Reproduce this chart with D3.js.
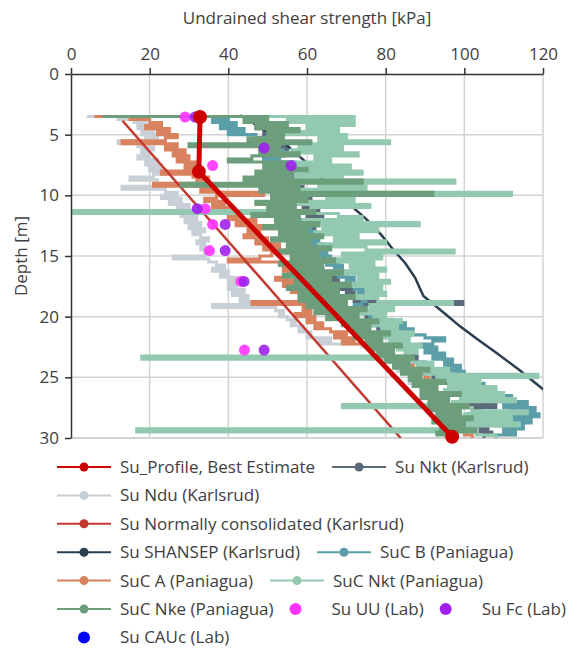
<!DOCTYPE html>
<html>
<head>
<meta charset="utf-8">
<script src="https://cdn.jsdelivr.net/npm/d3@7/dist/d3.min.js"></script>
<style>
  body { margin: 0; background: #fff; }
  svg { font-family: "Open Sans", sans-serif; }
</style>
</head>
<body>
<div id="chart"></div>
<script>
// CPT based profiles are sampled every 0.25 m starting at 3.5 m
const topDepth = 3.5;
const depthStep = 0.25;

// Su Nkt (Karlsrud)
const suNktKarlsrud = [
    44, 48, 46, 51,  47, 53, 49, 52,  48, 54, 50, 55,  51, 54, 49, 53,
    57, 52, 56, 53,  57, 54, 58, 55,  59, 56, 60, 57,  61, 58, 62, 59,
    63, 60, 64, 61,  63, 60, 62, 59,  61, 58, 60, 62,  64, 62, 65, 64,
    66, 63, 61, 64,  67, 65, 68, 66,  70, 68, 72, 70,  74, 72, 99.6, 73,
    75, 74, 76, 75,  77, 76, 79, 78,  79, 81, 83, 82,  84, 86, 85, 87,
    88, 87, 90, 89,  91, 93, 92, 95,  94, 97, 96, 99,  98, 101, 100, 99,
    108, 102, 104, 101,  105, 103, 100, 106,  104, 107, 105
];

// Su Ndu (Karlsrud)
const suNdu = [
    4, 12, 16, 19,  17, 21, 18, 22,  19, 12, 17, 21,  18, 20, 17, 22,
    19, 23, 20, 24,  21, 15, 22, 25,  13, 24, 27, 23,  28, 25, 30, 27,
    31, 28, 32, 29,  33, 30, 34, 31,  33, 35, 32, 34,  33, 36, 34, 26,
    35, 37, 39, 36,  40, 38, 42, 40,  42, 40, 44, 41,  45, 43, 47, 36,
    52, 54, 53, 55,  57, 56, 59, 58,  61, 60, 66, 63,  74, 77, 78, 80,
    79, 81, 82, 84,  83, 85, 86, 88,  86, 88, 89, 90,  89, 91, 92, 93,
    92, 93, 94, 95,  95, 94, 96, 97,  97, 96, 98
];

// SuC B (Paniagua)
const sucB = [
    35, 40, 36, 42,  38, 44, 40, 47,  50, 46, 52, 48,  54, 50, 53, 49,
    55, 51, 54, 50,  56, 52, 55, 51,  57, 53, 56, 52,  58, 54, 57, 55,
    59, 56, 58, 60,  57, 61, 59, 62,  60, 63, 61, 64,  62, 65, 63, 66,
    68, 65, 69, 67,  70, 68, 72, 70,  74, 72, 76, 73,  77, 75, 74, 72,
    75, 73, 76, 79,  82, 85, 83, 87,  84, 90, 95, 92,  89, 93, 90, 95,
    92, 97, 95, 99,  96, 100, 98, 102,  100, 105, 103, 108,  105, 112, 108, 116,
    110, 118, 112, 119,  110, 117, 108, 115,  110, 113, 108
];

// SuC A (Paniagua)
const sucA = [
    6, 15, 20, 23,  19, 25, 22, 27,  24, 13, 27, 24,  29, 26, 30, 27,
    32, 29, 33, 23,  31, 35, 32, 21,  36, 33, 49, 37,  34, 39, 36, 41,
    38, 43, 40, 47,  42, 52, 45, 48,  44, 50, 47, 53,  49, 57, 51, 48,
    40, 53, 58, 54,  60, 55, 52, 57,  54, 59, 56, 61,  58, 62, 46, 63,
    59, 61, 57, 62,  60, 64, 62, 66,  70, 67, 72, 69,  76, 78, 80, 82,
    81, 83, 85, 87,  86, 88, 90, 91,  90, 92, 93, 91,  94, 95, 93, 96,
    97, 95, 98, 97,  99, 98, 100, 99,  101, 100, 102
];

// SuC Nkt (Paniagua)
const sucNkt = [
    12, 72, 55, 72,  60, 68, 54, 70,  63, 81, 58, 69,  56, 73, 62, 66,
    54, 71, 60, 74,  57, 69, 97.6, 63,  75, 58, 112, 65,  72, 57, 76, 61,
    0.5, 68, 74, 59,  88.5, 64, 78, 62,  73, 67, 80, 63,  75, 97.4, 69, 79,
    65, 77, 71, 80,  67, 78, 73, 81,  70, 79, 75, 80,  71, 78, 97, 76,
    82, 72, 80, 77,  84, 75, 83, 79,  87, 78, 86, 81,  89, 83, 88, 85,
    18, 87, 92, 88,  96, 90, 118.7, 93,  104, 96, 108, 95,  110, 99, 113, 97,
    69, 102, 116, 100,  112, 95, 114, 99,  16.7, 103, 108
];

// SuC Nke (Paniagua)
const sucNke = [
    8, 50, 44, 55,  47, 58, 50, 54,  45, 61, 30, 53,  48, 58, 46, 40,
    55, 49, 60, 47,  56, 44, 74, 28,  58, 48, 92, 51,  60, 47, 57, 50,
    62, 46, 58, 52,  63, 49, 60, 53,  64, 51, 61, 55,  66, 53, 63, 56,
    67, 53, 64, 56,  69, 54, 66, 57,  71, 55, 68, 58,  72, 58, 70, 60,
    75, 62, 73, 65,  78, 69, 76, 71,  81, 72, 79, 75,  84, 76, 82, 78,
    87, 80, 86, 82,  91, 84, 89, 86,  95, 87, 93, 89,  99, 89, 96, 91,
    101, 91, 99, 93,  102, 92, 100, 94,  103, 93, 98
];

// Su Normally consolidated (Karlsrud)
const ncDepth = [3.85, 30];
const ncSu = [13.1, 83.8];

// Su SHANSEP (Karlsrud)
const shansepDepth = [3.4, 4.4, 5.3, 6.2, 7.2, 8.4, 9.6, 10.8, 12.0, 13.3, 14.5, 15.6,
    16.8, 17.6, 18.3, 19.2, 20.0, 20.8, 21.9, 23.0, 24.4, 25.9, 26.6];
const shansepSu = [43, 48, 53, 56, 59.5, 63, 66.6, 71, 75.2, 79, 82, 85,
    87.5, 88.6, 89.6, 93, 96, 98.9, 103.5, 108.2, 114, 119.7, 122.5];

// Su_Profile, Best Estimate
const profileDepth = [3.55, 8.05, 29.9];
const profileSu = [32.8, 32.5, 96.9];

// Lab tests
const uuDepth = [3.55, 7.55, 11.1, 12.4, 14.55, 17.1, 22.75];
const uuSu = [29.0, 36.0, 34.1, 36.0, 35.2, 43.2, 44.1];
const fcDepth = [3.55, 6.1, 7.55, 11.1, 12.4, 14.55, 17.1, 22.75];
const fcSu = [31.5, 49.1, 56.0, 32.1, 39.2, 39.2, 44.0, 49.1];
const caucDepth = [];
const caucSu = [];

// Axis ticks
const xTicks = [0, 20, 40, 60, 80, 100, 120];
const yTicks = [0, 5, 10, 15, 20, 25, 30];

const colors = {
    profile: '#cc0000',
    nktK: '#5a6a78',
    ndu: '#c8cfd6',
    nc: '#c4392f',
    shansep: '#2b3d4f',
    sucB: '#5b9ea7',
    sucA: '#d9825f',
    sucNkt: '#92c9b0',
    sucNke: '#6c9e7c',
    uu: '#ff33ff',
    fc: '#a020f0',
    cauc: '#0000ff'
};

const width = 577;
const height = 662;
const plot = { left: 71, right: 543, top: 74, bottom: 438 };
const noiseWidth = 3.1;  // thick enough that neighbouring samples touch
const fontSize = '17px';

// turn a value array into {depth, su} records on the sampling grid
function profileRecords(values) {
    return values.map((v, i) => ({ depth: topDepth + i * depthStep, su: v }));
}

function pairs(depths, values) {
    return depths.map((d, i) => ({ depth: d, su: values[i] }));
}

function drawChart() {
    const svg = d3.select('#chart')
        .append('svg')
        .attr('width', width)
        .attr('height', height);

    const xScale = d3.scaleLinear().domain([0, 120]).range([plot.left, plot.right]);
    const yScale = d3.scaleLinear().domain([0, 30]).range([plot.top, plot.bottom]);

    // gridlines
    const grid = svg.append('g').attr('class', 'grid');
    grid.selectAll('line.v')
        .data(xTicks.slice(1))
        .join('line')
        .attr('x1', d => xScale(d)).attr('x2', d => xScale(d))
        .attr('y1', plot.top).attr('y2', plot.bottom)
        .attr('stroke', '#d3d3d3').attr('stroke-width', 1.5);
    grid.selectAll('line.h')
        .data(yTicks.slice(1))
        .join('line')
        .attr('x1', plot.left).attr('x2', plot.right)
        .attr('y1', d => yScale(d)).attr('y2', d => yScale(d))
        .attr('stroke', '#d3d3d3').attr('stroke-width', d => d === 30 ? 2 : 1.5);

    svg.append('clipPath').attr('id', 'plot-clip')
        .append('rect')
        .attr('x', plot.left).attr('y', plot.top)
        .attr('width', plot.right - plot.left).attr('height', plot.bottom - plot.top);

    const lines = svg.append('g').attr('clip-path', 'url(#plot-clip)');

    const stepLine = d3.line()
        .x(d => xScale(d.su))
        .y(d => yScale(d.depth))
        .curve(d3.curveStepAfter);
    const straightLine = d3.line()
        .x(d => xScale(d.su))
        .y(d => yScale(d.depth));

    // drawing order: back to front
    const noisy = [
        { values: suNktKarlsrud, color: colors.nktK },
        { values: sucB, color: colors.sucB },
        { values: suNdu, color: colors.ndu },
        { values: sucA, color: colors.sucA }
    ];
    noisy.forEach(s => {
        lines.append('path')
            .datum(profileRecords(s.values))
            .attr('d', stepLine)
            .attr('fill', 'none')
            .attr('stroke', s.color)
            .attr('stroke-width', noiseWidth);
    });

    lines.append('path')
        .datum(pairs(shansepDepth, shansepSu))
        .attr('d', straightLine)
        .attr('fill', 'none')
        .attr('stroke', colors.shansep)
        .attr('stroke-width', 2.5);

    lines.append('path')
        .datum(pairs(ncDepth, ncSu))
        .attr('d', straightLine)
        .attr('fill', 'none')
        .attr('stroke', colors.nc)
        .attr('stroke-width', 2.5);

    [{ values: sucNkt, color: colors.sucNkt }, { values: sucNke, color: colors.sucNke }].forEach(s => {
        lines.append('path')
            .datum(profileRecords(s.values))
            .attr('d', stepLine)
            .attr('fill', 'none')
            .attr('stroke', s.color)
            .attr('stroke-width', noiseWidth);
    });

    // lab points
    const labSets = [
        { data: pairs(uuDepth, uuSu), color: colors.uu },
        { data: pairs(fcDepth, fcSu), color: colors.fc },
        { data: pairs(caucDepth, caucSu), color: colors.cauc }
    ];
    labSets.forEach(s => {
        svg.append('g').selectAll('circle')
            .data(s.data)
            .join('circle')
            .attr('cx', d => xScale(d.su))
            .attr('cy', d => yScale(d.depth))
            .attr('r', 5.5)
            .attr('fill', s.color)
            .attr('fill-opacity', 0.9);
    });

    // best estimate profile on top
    const profile = pairs(profileDepth, profileSu);
    svg.append('path')
        .datum(profile)
        .attr('d', straightLine)
        .attr('fill', 'none')
        .attr('stroke', colors.profile)
        .attr('stroke-width', 5);
    svg.append('g').selectAll('circle')
        .data(profile)
        .join('circle')
        .attr('cx', d => xScale(d.su))
        .attr('cy', d => yScale(d.depth))
        .attr('r', 7)
        .attr('fill', colors.profile);

    // axes
    const xAxis = svg.append('g')
        .attr('transform', `translate(0, ${plot.top})`)
        .call(d3.axisTop(xScale).tickValues(xTicks).tickSize(6).tickSizeOuter(0).tickPadding(8));
    const yAxis = svg.append('g')
        .attr('transform', `translate(${plot.left}, 0)`)
        .call(d3.axisLeft(yScale).tickValues(yTicks).tickSize(6).tickSizeOuter(0).tickPadding(6));
    [xAxis, yAxis].forEach(a => {
        a.select('.domain').attr('stroke', '#333').attr('stroke-width', 1.5);
        a.selectAll('.tick line').attr('stroke', '#333').attr('stroke-width', 1.5);
        a.selectAll('.tick text')
            .attr('fill', '#404040')
            .style('font-size', fontSize)
            .style('font-family', '"Open Sans", sans-serif');
    });

    svg.append('text')
        .attr('x', (plot.left + plot.right) / 2)
        .attr('y', 24)
        .attr('text-anchor', 'middle')
        .attr('fill', '#404040')
        .style('font-size', fontSize)
        .text('Undrained shear strength [kPa]');

    svg.append('text')
        .attr('transform', `translate(27, ${(plot.top + plot.bottom) / 2}) rotate(-90)`)
        .attr('text-anchor', 'middle')
        .attr('fill', '#404040')
        .style('font-size', fontSize)
        .text('Depth [m]');

    drawLegend(svg);
}

// legend rows, laid out left to right like the original
const legendRows = [
    [{ label: 'Su_Profile, Best Estimate', key: 'profile', line: true },
     { label: 'Su Nkt (Karlsrud)', key: 'nktK', line: true }],
    [{ label: 'Su Ndu (Karlsrud)', key: 'ndu', line: true }],
    [{ label: 'Su Normally consolidated (Karlsrud)', key: 'nc', line: true }],
    [{ label: 'Su SHANSEP (Karlsrud)', key: 'shansep', line: true },
     { label: 'SuC B (Paniagua)', key: 'sucB', line: true }],
    [{ label: 'SuC A (Paniagua)', key: 'sucA', line: true },
     { label: 'SuC Nkt (Paniagua)', key: 'sucNkt', line: true }],
    [{ label: 'SuC Nke (Paniagua)', key: 'sucNke', line: true },
     { label: 'Su UU (Lab)', key: 'uu', line: false },
     { label: 'Su Fc (Lab)', key: 'fc', line: false }],
    [{ label: 'Su CAUc (Lab)', key: 'cauc', line: false }]
];

function drawLegend(svg) {
    const legend = svg.append('g').attr('class', 'legend');
    legendRows.forEach((row, r) => {
        const cy = 467 + r * 28.4;
        let textEnd = null;
        row.forEach(item => {
            const dotX = textEnd === null ? 84 : textEnd + (item.line ? 44 : 22);
            const color = colors[item.key];
            if (item.line) {
                legend.append('line')
                    .attr('x1', dotX - 27).attr('x2', dotX + 27)
                    .attr('y1', cy).attr('y2', cy)
                    .attr('stroke', color).attr('stroke-width', 2);
                legend.append('circle')
                    .attr('cx', dotX).attr('cy', cy).attr('r', 4.5)
                    .attr('fill', color);
            } else {
                legend.append('circle')
                    .attr('cx', dotX).attr('cy', cy).attr('r', 6)
                    .attr('fill', color);
            }
            const t = legend.append('text')
                .attr('x', dotX + 36)
                .attr('y', cy)
                .attr('dy', '0.35em')
                .attr('fill', '#404040')
                .style('font-size', fontSize)
                .text(item.label);
            textEnd = dotX + 36 + t.node().getComputedTextLength();
        });
    });
}

document.addEventListener('DOMContentLoaded', drawChart);
</script>
</body>
</html>
